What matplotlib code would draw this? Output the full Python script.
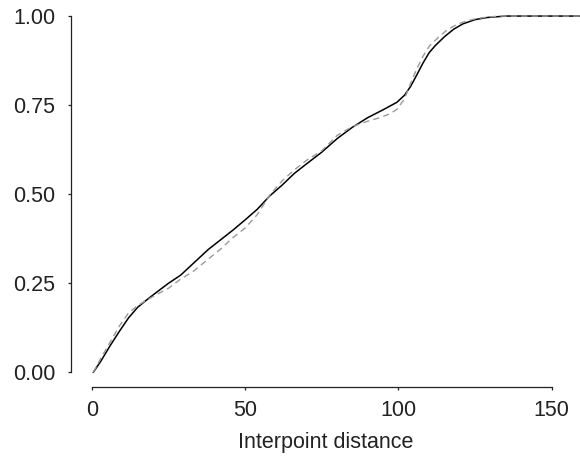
import matplotlib
matplotlib.use("Agg")
import matplotlib.pyplot as plt

# Solid (black) curve
x_solid = [0.5, 3, 6, 9, 12, 15, 18, 21, 25, 29, 33, 38, 42, 46, 50, 54, 58, 62, 66, 70,
           75, 80, 85, 90, 95, 99.5, 102, 104, 106, 108, 110, 112, 115, 118, 121, 125, 129,
           135, 145, 159]
y_solid = [0.0, 0.032, 0.075, 0.115, 0.153, 0.183, 0.204, 0.224, 0.250, 0.273, 0.305, 0.345,
           0.372, 0.399, 0.428, 0.458, 0.495, 0.525, 0.558, 0.585, 0.618, 0.656, 0.688, 0.715,
           0.737, 0.758, 0.778, 0.803, 0.835, 0.868, 0.897, 0.917, 0.942, 0.963, 0.978, 0.990,
           0.996, 1.0, 1.0, 1.0]

# Dashed (grey) curve
x_dash = [0.5, 3, 6, 9, 12, 15, 18, 21, 25, 29, 33, 38, 42, 46, 50, 54, 58, 62, 66, 70,
          75, 80, 85, 90, 94, 97, 99.5, 102, 104, 106, 108, 110, 113, 116, 119, 122, 125.5,
          129, 133, 145, 159]
y_dash = [0.0, 0.040, 0.085, 0.130, 0.167, 0.188, 0.203, 0.218, 0.236, 0.262, 0.283, 0.318,
          0.346, 0.378, 0.405, 0.443, 0.497, 0.537, 0.568, 0.595, 0.622, 0.665, 0.690, 0.705,
          0.715, 0.725, 0.738, 0.768, 0.812, 0.852, 0.887, 0.915, 0.940, 0.962, 0.976, 0.986,
          0.993, 0.997, 1.0, 1.0, 1.0]

x_ticks = [0, 50, 100, 150]
y_ticks = [0.0, 0.25, 0.5, 0.75, 1.0]
y_ticklabels = ["0.00", "0.25", "0.50", "0.75", "1.00"]
x_label = "Interpoint distance"

plt.rcParams['font.family'] = ['Liberation Sans', 'DejaVu Sans']

W, H = 580, 457
fig = plt.figure(figsize=(W / 100, H / 100), dpi=100)
left, right, bottom, top = 71, 580, 386.7, 1.8
ax = fig.add_axes([left / W, (H - bottom) / H, (right - left) / W, (bottom - top) / H])

ax.plot(x_solid, y_solid, color='black', lw=1.1, solid_capstyle='round')
ln, = ax.plot(x_dash, y_dash, color='#9a9a9a', lw=1.0)
ln.set_dashes([4.5, 3])

ax.set_xlim(-6.75, 159.2)
ax.set_ylim(-0.04, 1.04)

for s in ['top', 'right']:
    ax.spines[s].set_visible(False)
ax.spines['left'].set_bounds(0, 1)
ax.spines['bottom'].set_bounds(0, 150)
for s in ['left', 'bottom']:
    ax.spines[s].set_linewidth(0.9)
    ax.spines[s].set_color('#222222')

ax.set_xticks(x_ticks)
ax.set_yticks(y_ticks)
ax.set_yticklabels(y_ticklabels)
ax.tick_params(axis='both', direction='out', length=2.5, width=0.9, colors='#222222',
               labelsize=15.5, labelcolor='#222222')
ax.tick_params(axis='y', pad=9)
ax.tick_params(axis='x', pad=7)
ax.set_xlabel(x_label, fontsize=15.5, color='#222222', labelpad=8)

fig.savefig("out.png", dpi=100)
